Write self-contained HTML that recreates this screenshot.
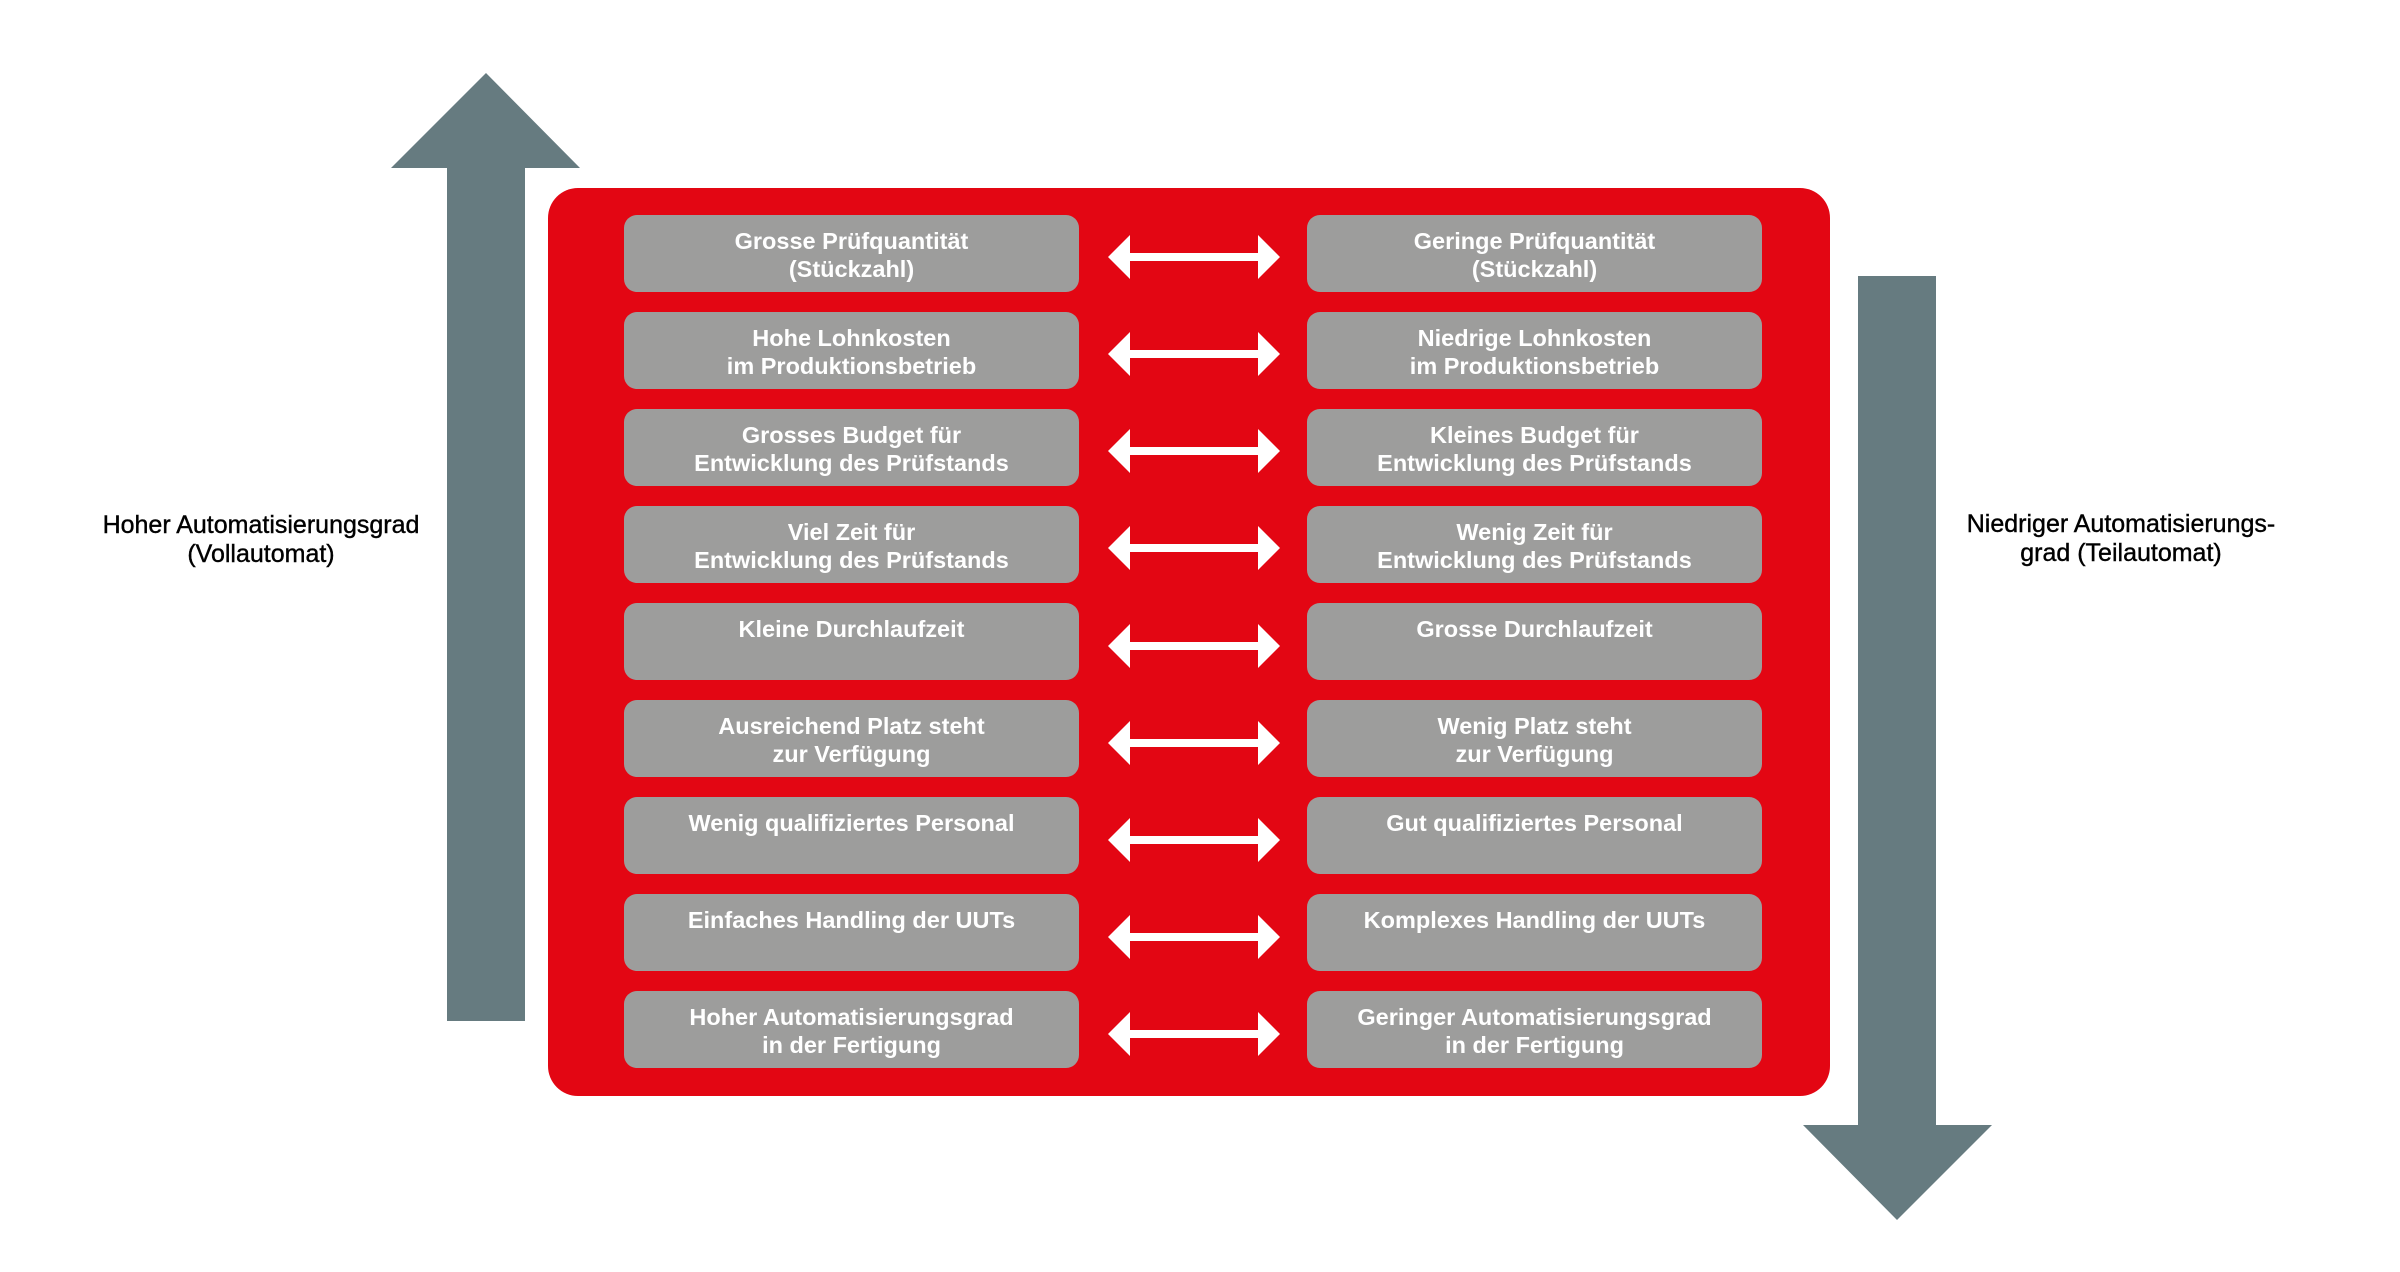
<!DOCTYPE html>
<html><head><meta charset="utf-8"><style>
html,body{margin:0;padding:0;background:#fff;}
body{width:2400px;height:1272px;position:relative;overflow:hidden;font-family:"Liberation Sans",sans-serif;}
.box{position:absolute;width:455px;height:77px;background:#9d9d9c;border-radius:13px;color:#fff;font-weight:bold;font-size:23.5px;line-height:28px;text-align:center;box-sizing:border-box;padding-top:12px;}
.lbl{position:absolute;color:#000;font-size:25px;line-height:29px;text-align:center;white-space:nowrap;-webkit-text-stroke:0.4px #000;}
</style></head><body>
<svg width="2400" height="1272" style="position:absolute;left:0;top:0">
<polygon points="486,73 580,168 525,168 525,1021 447,1021 447,168 391,168" fill="#667b80"/>
<polygon points="1858,276 1936,276 1936,1125 1992,1125 1897,1220 1803,1125 1858,1125" fill="#667b80"/>
<rect x="548" y="188" width="1282" height="908" rx="30" fill="#e30613"/>
<g fill="#fff" id="arrows">
<polygon points="1108,257 1130,235 1130,253 1258,253 1258,235 1280,257 1258,279 1258,261 1130,261 1130,279"/>
<polygon points="1108,354 1130,332 1130,350 1258,350 1258,332 1280,354 1258,376 1258,358 1130,358 1130,376"/>
<polygon points="1108,451 1130,429 1130,447 1258,447 1258,429 1280,451 1258,473 1258,455 1130,455 1130,473"/>
<polygon points="1108,548 1130,526 1130,544 1258,544 1258,526 1280,548 1258,570 1258,552 1130,552 1130,570"/>
<polygon points="1108,646 1130,624 1130,642 1258,642 1258,624 1280,646 1258,668 1258,650 1130,650 1130,668"/>
<polygon points="1108,743 1130,721 1130,739 1258,739 1258,721 1280,743 1258,765 1258,747 1130,747 1130,765"/>
<polygon points="1108,840 1130,818 1130,836 1258,836 1258,818 1280,840 1258,862 1258,844 1130,844 1130,862"/>
<polygon points="1108,937 1130,915 1130,933 1258,933 1258,915 1280,937 1258,959 1258,941 1130,941 1130,959"/>
<polygon points="1108,1034 1130,1012 1130,1030 1258,1030 1258,1012 1280,1034 1258,1056 1258,1038 1130,1038 1130,1056"/>
</g>
</svg>
<div class="box" style="left:624px;top:215px">Grosse Prüfquantität<br>(Stückzahl)</div>
<div class="box" style="left:1307px;top:215px">Geringe Prüfquantität<br>(Stückzahl)</div>
<div class="box" style="left:624px;top:312px">Hohe Lohnkosten<br>im Produktionsbetrieb</div>
<div class="box" style="left:1307px;top:312px">Niedrige Lohnkosten<br>im Produktionsbetrieb</div>
<div class="box" style="left:624px;top:409px">Grosses Budget für<br>Entwicklung des Prüfstands</div>
<div class="box" style="left:1307px;top:409px">Kleines Budget für<br>Entwicklung des Prüfstands</div>
<div class="box" style="left:624px;top:506px">Viel Zeit für<br>Entwicklung des Prüfstands</div>
<div class="box" style="left:1307px;top:506px">Wenig Zeit für<br>Entwicklung des Prüfstands</div>
<div class="box" style="left:624px;top:603px">Kleine Durchlaufzeit</div>
<div class="box" style="left:1307px;top:603px">Grosse Durchlaufzeit</div>
<div class="box" style="left:624px;top:700px">Ausreichend Platz steht<br>zur Verfügung</div>
<div class="box" style="left:1307px;top:700px">Wenig Platz steht<br>zur Verfügung</div>
<div class="box" style="left:624px;top:797px">Wenig qualifiziertes Personal</div>
<div class="box" style="left:1307px;top:797px">Gut qualifiziertes Personal</div>
<div class="box" style="left:624px;top:894px">Einfaches Handling der UUTs</div>
<div class="box" style="left:1307px;top:894px">Komplexes Handling der UUTs</div>
<div class="box" style="left:624px;top:991px">Hoher Automatisierungsgrad<br>in der Fertigung</div>
<div class="box" style="left:1307px;top:991px">Geringer Automatisierungsgrad<br>in der Fertigung</div>
<div class="lbl" style="left:61px;width:400px;top:511px">Hoher Automatisierungsgrad<br>(Vollautomat)</div>
<div class="lbl" style="left:1921px;width:400px;top:510px">Niedriger Automatisierungs-<br>grad (Teilautomat)</div>
</body></html>
